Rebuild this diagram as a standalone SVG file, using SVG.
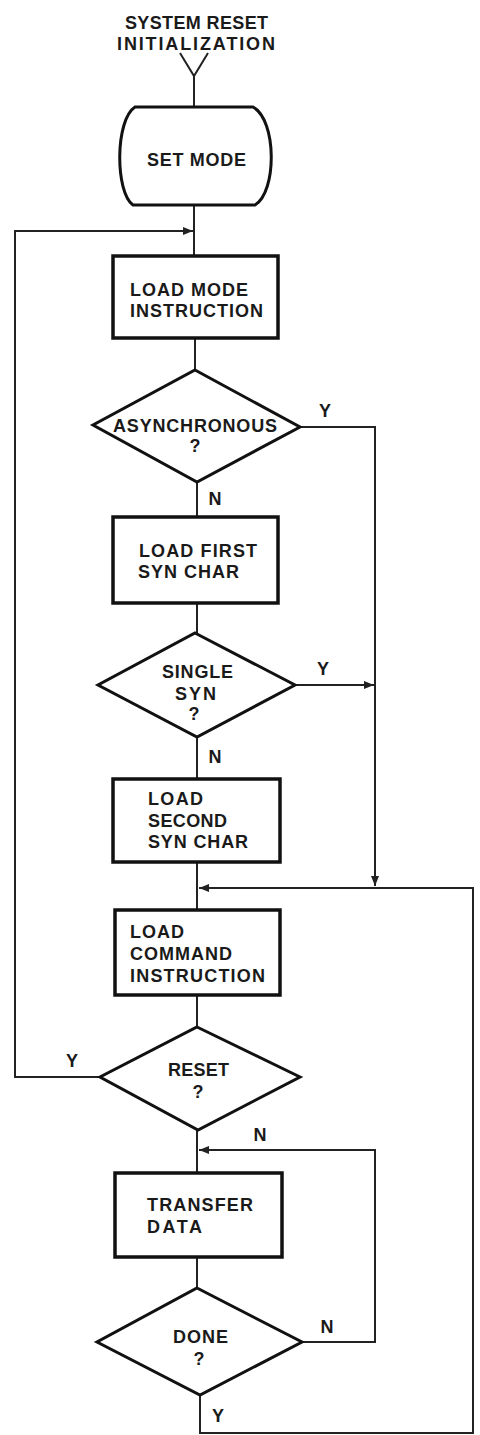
<svg xmlns="http://www.w3.org/2000/svg" width="480" height="1435" viewBox="0 0 480 1435">
<style>
text{font-family:"Liberation Sans",Arial,sans-serif;font-weight:bold;font-size:18px;fill:#1a1a1a}
.c{text-anchor:middle}
.box{fill:#fff;stroke:#111;stroke-width:3.5}
.dia{fill:#fff;stroke:#111;stroke-width:3}
.ln{fill:none;stroke:#222;stroke-width:2}
</style>
<defs>
<marker id="ah" viewBox="0 0 10 8" refX="10" refY="4" markerWidth="10" markerHeight="8" markerUnits="userSpaceOnUse" orient="auto">
<path d="M0,0 L10,4 L0,8 Z" fill="#222"/>
</marker>
</defs>
<rect width="480" height="1435" fill="#fff"/>
<g id="connectors">
<path class="ln" d="M180,53 L194,76 L208,53"/>
<path class="ln" d="M194,76 V107"/>
<path class="ln" d="M194,205 V256"/>
<path class="ln" d="M100,1077 H15 V231 H193" marker-end="url(#ah)"/>
<path class="ln" d="M195,338 V370"/>
<path class="ln" d="M300,427 H375 V886" marker-end="url(#ah)"/>
<path class="ln" d="M197,482 V517"/>
<path class="ln" d="M197,603 V633"/>
<path class="ln" d="M295,685 H374" marker-end="url(#ah)"/>
<path class="ln" d="M197,737 V779"/>
<path class="ln" d="M197,862 V910"/>
<path class="ln" d="M200,1395 V1433 H473 V888 H199" marker-end="url(#ah)"/>
<path class="ln" d="M197,995 V1027"/>
<path class="ln" d="M197,1130 V1173"/>
<path class="ln" d="M302,1342 H375 V1150 H199" marker-end="url(#ah)"/>
<path class="ln" d="M197,1257 V1288"/>
</g>
<g id="start">
<text x="125" y="29" textLength="143">SYSTEM RESET</text>
<text x="117" y="50" textLength="158">INITIALIZATION</text>
</g>
<g id="set-mode">
<path class="dia" d="M135,107 H253 C277,120 277,192 255,205 H133 C115,192 115,120 135,107 Z"/>
<text x="147" y="166" textLength="99">SET MODE</text>
</g>
<g id="load-mode">
<rect class="box" x="113" y="256" width="165" height="82"/>
<text x="130" y="296" textLength="118">LOAD MODE</text>
<text x="130" y="317" textLength="133">INSTRUCTION</text>
</g>
<g id="async">
<path class="dia" d="M195,370 L300,427 L197,482 L93,425 Z"/>
<text x="113" y="432" textLength="164">ASYNCHRONOUS</text>
<text class="c" x="195" y="452">?</text>
</g>
<g id="load-first">
<rect class="box" x="113" y="517" width="165" height="86"/>
<text x="139" y="557" textLength="118">LOAD FIRST</text>
<text x="138" y="578" textLength="101">SYN CHAR</text>
</g>
<g id="single-syn">
<path class="dia" d="M195,633 L295,685 L197,737 L98,685 Z"/>
<text x="162" y="678" textLength="71">SINGLE</text>
<text x="175" y="700" textLength="41">SYN</text>
<text class="c" x="194" y="720">?</text>
</g>
<g id="load-second">
<rect class="box" x="113" y="779" width="167" height="83"/>
<text x="148" y="805" textLength="55">LOAD</text>
<text x="148" y="827" textLength="79">SECOND</text>
<text x="148" y="848" textLength="100">SYN CHAR</text>
</g>
<g id="load-command">
<rect class="box" x="115" y="910" width="165" height="85"/>
<text x="130" y="938" textLength="54">LOAD</text>
<text x="130" y="960" textLength="102">COMMAND</text>
<text x="130" y="982" textLength="135">INSTRUCTION</text>
</g>
<g id="reset">
<path class="dia" d="M197,1027 L300,1077 L198,1130 L100,1077 Z"/>
<text x="168" y="1076" textLength="61">RESET</text>
<text class="c" x="198" y="1098">?</text>
</g>
<g id="transfer">
<rect class="box" x="115" y="1173" width="167" height="84"/>
<text x="147" y="1211" textLength="106">TRANSFER</text>
<text x="147" y="1233" textLength="55">DATA</text>
</g>
<g id="done">
<path class="dia" d="M197,1288 L302,1342 L200,1395 L97,1342 Z"/>
<text x="173" y="1343" textLength="55">DONE</text>
<text class="c" x="199" y="1365">?</text>
</g>
<g id="labels">
<text class="c" x="325" y="417">Y</text>
<text class="c" x="215" y="505">N</text>
<text class="c" x="323" y="675">Y</text>
<text class="c" x="215" y="763">N</text>
<text class="c" x="72" y="1067">Y</text>
<text class="c" x="260" y="1141">N</text>
<text class="c" x="327" y="1333">N</text>
<text class="c" x="218" y="1422">Y</text>
</g>
</svg>
